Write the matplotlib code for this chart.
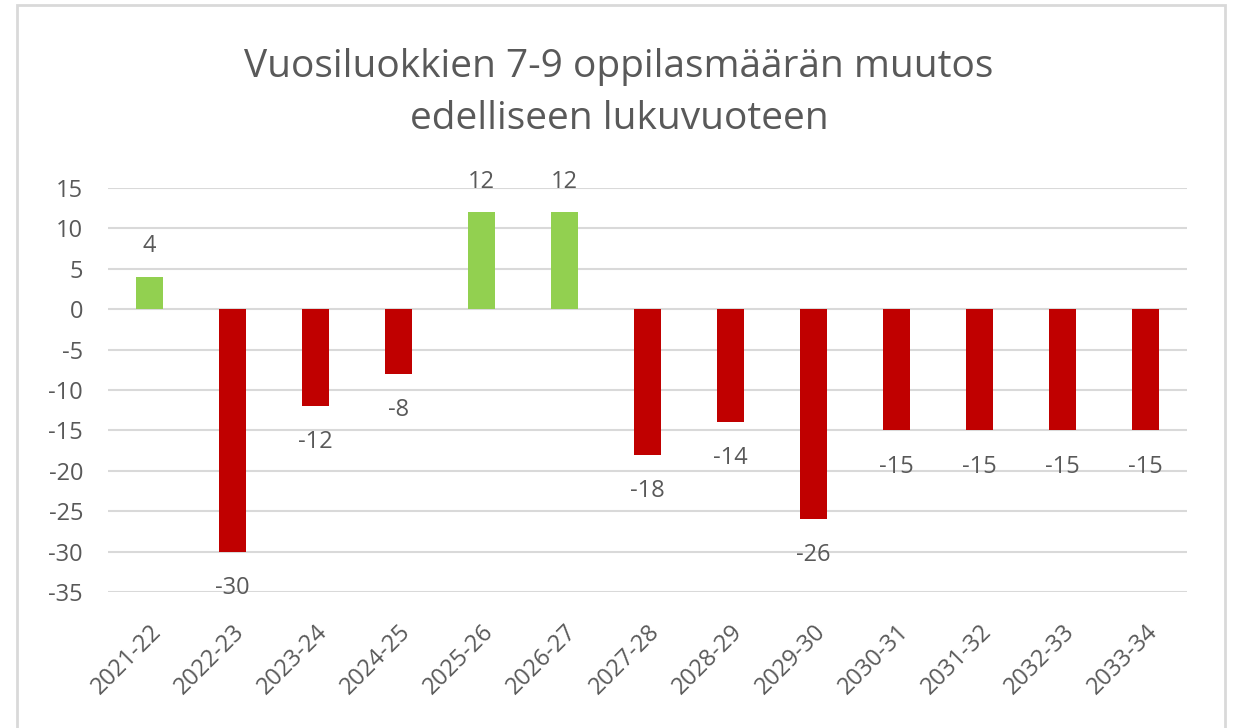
import matplotlib

matplotlib.use("Agg")
import matplotlib.pyplot as plt
from matplotlib.patches import Rectangle

plt.rcParams["font.family"] = ["Open Sans", "DejaVu Sans"]

years = ["2021-22", "2022-23", "2023-24", "2024-25", "2025-26", "2026-27", "2027-28",
         "2028-29", "2029-30", "2030-31", "2031-32", "2032-33", "2033-34"]
change = [4, -30, -12, -8, 12, 12, -18, -14, -26, -15, -15, -15, -15]
yticks = [15, 10, 5, 0, -5, -10, -15, -20, -25, -30, -35]

text_col = "#595959"
grid_col = "#D9D9D9"

fig = plt.figure(figsize=(12.38, 7.28), dpi=100)
fig.patches.append(Rectangle((17 / 1238, -0.05), (1225 - 17) / 1238, 1 - 5 / 728 + 0.05,
                             transform=fig.transFigure, fill=False, edgecolor=grid_col,
                             linewidth=2))
ax = fig.add_axes([108 / 1238, 1 - 592 / 728, (1187 - 108) / 1238, (592 - 188) / 728])

x = list(range(len(years)))
colors = ["#92D050" if v > 0 else "#C00000" for v in change]
ax.bar(x, change, width=0.32, color=colors, zorder=3)

# labels sit a fixed distance beyond the bar end
for xi, v in zip(x, change):
    off = 22 if v >= 0 else -26
    ax.annotate(str(v), (xi, v), textcoords="offset points", xytext=(0, off),
                ha="center", va="center", fontsize=17, color=text_col)

ax.set_ylim(-35, 15)
ax.set_xlim(-0.5, len(years) - 0.5)
ax.set_yticks(yticks)
ax.set_yticklabels([str(t) for t in yticks], fontsize=17, color=text_col)
ax.set_xticks(x)
ax.set_xticklabels(years, rotation=45, ha="right", rotation_mode="anchor",
                   fontsize=17, color=text_col)
ax.tick_params(axis="y", length=0, pad=18)
ax.tick_params(axis="x", length=0, pad=20)
ax.grid(axis="y", color=grid_col, linewidth=1.5, zorder=0)
for s in ax.spines.values():
    s.set_visible(False)

fig.text(0.5, 1 - 93 / 728, "Vuosiluokkien 7-9 oppilasmäärän muutos\nedelliseen lukuvuoteen",
         ha="center", va="center", fontsize=28, color=text_col, linespacing=1.45)

fig.savefig("out.png", dpi=100)
